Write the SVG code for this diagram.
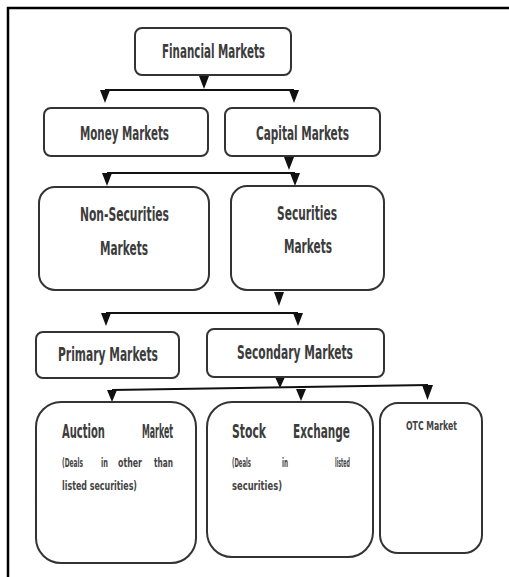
<svg xmlns="http://www.w3.org/2000/svg" width="509" height="577" viewBox="0 0 509 577">
<style>
.box{fill:#fff;stroke:#333;stroke-width:2}
.ln{stroke:#111;stroke-width:2;fill:none}
.ah{fill:#111}
.t{font-family:"Liberation Sans Narrow","DejaVu Sans Condensed","Liberation Sans",sans-serif;fill:#3c3c3c;font-size:19px;font-weight:bold}
.s{font-family:"Liberation Sans Narrow","DejaVu Sans Condensed","Liberation Sans",sans-serif;fill:#444;font-size:11.5px;font-weight:bold}
.o{font-family:"Liberation Sans Narrow","DejaVu Sans Condensed","Liberation Sans",sans-serif;fill:#444;font-size:12px;font-weight:bold}
</style>
<rect width="509" height="577" fill="#fff"/>
<g id="frame">
<path d="M8,577 V8 H509" fill="none" stroke="#000" stroke-width="2.5"/>
</g>
<g id="connectors">
<polygon class="ah" points="199,76 209,76 204,89"/>
<line class="ln" x1="105" y1="90" x2="294" y2="90"/>
<polygon class="ah" points="100,90 110,90 105,103"/>
<polygon class="ah" points="289,90 299,90 294,103"/>
<polygon class="ah" points="284,157 294,157 289,170"/>
<line class="ln" x1="107" y1="173" x2="295" y2="173"/>
<polygon class="ah" points="102,173 112,173 107,186"/>
<polygon class="ah" points="290,173 300,173 295,186"/>
<polygon class="ah" points="274,292 284,292 279,306"/>
<line class="ln" x1="106" y1="313" x2="298" y2="313"/>
<polygon class="ah" points="101,313 111,313 106,326"/>
<polygon class="ah" points="293,313 303,313 298,326"/>
<polygon class="ah" points="275,377 285,377 280,388"/>
<line class="ln" x1="112" y1="390" x2="428" y2="385"/>
<polygon class="ah" points="107,390 117,390 112,402"/>
<polygon class="ah" points="296,389 306,389 301,401"/>
<polygon class="ah" points="422,385 433,385 427.5,400"/>
</g>
<g id="financial">
<rect class="box" x="135" y="28" width="156" height="47" rx="7"/>
<text class="t" x="162" y="58" textLength="103" lengthAdjust="spacingAndGlyphs">Financial Markets</text>
</g>
<g id="money">
<rect class="box" x="44" y="108" width="164" height="48" rx="7"/>
<text class="t" x="80" y="140" textLength="89" lengthAdjust="spacingAndGlyphs">Money Markets</text>
</g>
<g id="capital">
<rect class="box" x="225" y="108" width="155" height="48" rx="7"/>
<text class="t" x="256" y="140" textLength="93" lengthAdjust="spacingAndGlyphs">Capital Markets</text>
</g>
<g id="nonsecurities">
<rect class="box" x="39" y="187" width="170" height="103" rx="16"/>
<text class="t" x="80" y="221" textLength="89" lengthAdjust="spacingAndGlyphs">Non-Securities</text>
<text class="t" x="100" y="255" textLength="48" lengthAdjust="spacingAndGlyphs">Markets</text>
</g>
<g id="securities">
<rect class="box" x="231" y="186" width="153" height="104" rx="16"/>
<text class="t" x="277" y="220" textLength="60" lengthAdjust="spacingAndGlyphs">Securities</text>
<text class="t" x="284" y="253" textLength="48" lengthAdjust="spacingAndGlyphs">Markets</text>
</g>
<g id="primary">
<rect class="box" x="36" y="332" width="143" height="46" rx="7"/>
<text class="t" x="58" y="361" textLength="100" lengthAdjust="spacingAndGlyphs">Primary Markets</text>
</g>
<g id="secondary">
<rect class="box" x="207" y="329" width="177" height="48" rx="7"/>
<text class="t" x="237" y="359" textLength="116" lengthAdjust="spacingAndGlyphs">Secondary Markets</text>
</g>
<g id="auction">
<rect class="box" x="36" y="402" width="160" height="161" rx="25"/>
<text class="t" x="62" y="438" textLength="43" lengthAdjust="spacingAndGlyphs">Auction</text>
<text class="t" x="142" y="438" textLength="31" lengthAdjust="spacingAndGlyphs">Market</text>
<text class="s" x="62" y="467" textLength="21" lengthAdjust="spacingAndGlyphs">(Deals</text>
<text class="s" x="101" y="467" textLength="7" lengthAdjust="spacingAndGlyphs">in</text>
<text class="s" x="118" y="467" textLength="24" lengthAdjust="spacingAndGlyphs">other</text>
<text class="s" x="154" y="467" textLength="19" lengthAdjust="spacingAndGlyphs">than</text>
<text class="s" x="62" y="490" textLength="75" lengthAdjust="spacingAndGlyphs">listed securities)</text>
</g>
<g id="stock">
<rect class="box" x="207" y="402" width="166" height="155" rx="25"/>
<text class="t" x="232" y="438" textLength="34" lengthAdjust="spacingAndGlyphs">Stock</text>
<text class="t" x="293" y="438" textLength="57" lengthAdjust="spacingAndGlyphs">Exchange</text>
<text class="s" x="232" y="467" textLength="19" lengthAdjust="spacingAndGlyphs">(Deals</text>
<text class="s" x="282" y="467" textLength="6" lengthAdjust="spacingAndGlyphs">in</text>
<text class="s" x="335" y="467" textLength="15" lengthAdjust="spacingAndGlyphs">listed</text>
<text class="s" x="232" y="490" textLength="50" lengthAdjust="spacingAndGlyphs">securities)</text>
</g>
<g id="otc">
<rect class="box" x="380" y="403" width="102" height="150" rx="18"/>
<text class="o" x="406" y="430" textLength="51" lengthAdjust="spacingAndGlyphs">OTC Market</text>
</g>
</svg>
